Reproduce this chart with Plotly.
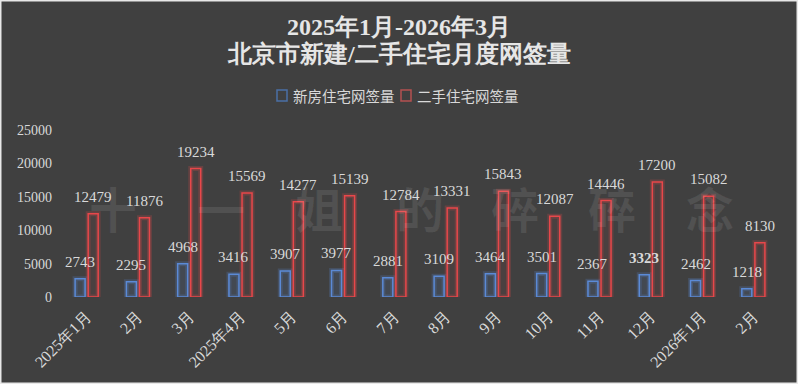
import plotly.graph_objects as go

months = ["2025年1月", "2月", "3月", "2025年4月", "5月", "6月", "7月", "8月",
          "9月", "10月", "11月", "12月", "2026年1月", "2月"]
new_homes = [2743, 2295, 4968, 3416, 3907, 3977, 2881, 3109, 3464, 3501, 2367, 3323, 2462, 1218]
resale_homes = [12479, 11876, 19234, 15569, 14277, 15139, 12784, 13331, 15843, 12087, 14446, 17200, 15082, 8130]
bold_new_idx = [11]
y_ticks = [0, 5000, 10000, 15000, 20000, 25000]
series_names = ["新房住宅网签量", "二手住宅网签量"]
title_lines = ["2025年1月-2026年3月", "北京市新建/二手住宅月度网签量"]
watermark = ["十", "一", "姐", "的", "碎", "碎", "念"]

BG = "#404040"
TXT = "#d9d9d9"
BLUE = "91,138,214"
RED = "232,71,74"
SERIF = "Liberation Serif, Times New Roman, serif"
CJK = "Noto Sans CJK SC, sans-serif"

# layout geometry (pixels)
W_PX, H_PX = 798, 384
L, R, T, B = 61, 19, 130, 87
PW, PH = W_PX - L - R, H_PX - T - B


def px_x(p):
    return (p - L) / PW


def px_y(p):
    return (H_PX - B - p) / PH


x = list(range(len(months)))
W = 0.195
OFF_B = -0.225
OFF_R = 0.03

fig = go.Figure()
for vals, col, off in [(new_homes, BLUE, OFF_B), (resale_homes, RED, OFF_R)]:
    fig.add_trace(go.Bar(x=x, y=vals, width=W, offset=off, showlegend=False, hoverinfo="skip",
                         marker=dict(color="rgba(0,0,0,0)", line=dict(color=f"rgba({col},0.22)", width=5))))
fig.add_trace(go.Bar(x=x, y=new_homes, width=W, offset=OFF_B, name=series_names[0], showlegend=False,
                     marker=dict(color=f"rgba({BLUE},0.12)", line=dict(color=f"rgb({BLUE})", width=1.5))))
fig.add_trace(go.Bar(x=x, y=resale_homes, width=W, offset=OFF_R, name=series_names[1], showlegend=False,
                     marker=dict(color=f"rgba({RED},0.06)", line=dict(color=f"rgb({RED})", width=1.5))))

ann = []
for i in x:
    t = str(new_homes[i])
    if i in bold_new_idx:
        t = f"<b>{t}</b>"
    ann.append(dict(x=i + OFF_B + W / 2, y=new_homes[i], text=t, showarrow=False,
                    yanchor="bottom", yshift=7, font=dict(family=SERIF, size=15, color=TXT)))
    ann.append(dict(x=i + OFF_R + W / 2, y=resale_homes[i], text=str(resale_homes[i]), showarrow=False,
                    yanchor="bottom", yshift=7, font=dict(family=SERIF, size=15, color=TXT)))

wm_x = [113, 221, 319, 420, 515, 612, 710]
for ch, p in zip(watermark, wm_x):
    ann.append(dict(xref="paper", yref="paper", x=px_x(p), y=px_y(207), text=ch,
                    showarrow=False, xanchor="center", yanchor="middle",
                    font=dict(family=CJK, size=48, color="rgba(255,255,255,0.09)", weight="bold")))

# title
for line, yc in zip(title_lines, [27, 53]):
    ann.append(dict(xref="paper", yref="paper", x=px_x(399), y=px_y(yc), text=f"<b>{line}</b>",
                    showarrow=False, xanchor="center", yanchor="middle",
                    font=dict(family=SERIF, size=24, color="#e6e6e6")))

# legend (manual)
shapes = []
leg = [(series_names[0], "74,111,165", 277), (series_names[1], "180,80,80", 401)]
for name, col, sx in leg:
    shapes.append(dict(type="rect", xref="paper", yref="paper",
                       x0=px_x(sx), x1=px_x(sx + 10), y0=px_y(101), y1=px_y(90),
                       line=dict(color=f"rgb({col})", width=1.5), fillcolor="rgba(0,0,0,0)"))
    ann.append(dict(xref="paper", yref="paper", x=px_x(sx + 14), y=px_y(95), text=name,
                    showarrow=False, xanchor="left", yanchor="middle",
                    font=dict(family=CJK, size=14.5, color=TXT)))

shapes.append(dict(type="rect", xref="paper", yref="paper",
                   x0=px_x(0.75), x1=px_x(797.25), y0=px_y(383.25), y1=px_y(0.75),
                   line=dict(color="#e8e8e8", width=1.5), layer="below"))

fig.update_layout(
    width=W_PX, height=H_PX,
    paper_bgcolor=BG, plot_bgcolor=BG,
    margin=dict(l=L, r=R, t=T, b=B, autoexpand=False),
    barmode="overlay",
    showlegend=False,
    xaxis=dict(tickvals=x, ticktext=months, tickangle=-45, range=[-0.5, len(months) - 0.5],
               showgrid=False, zeroline=False, showline=False, ticks="", automargin=False,
               ticklabelstandoff=6, tickfont=dict(family=SERIF, size=16, color=TXT)),
    yaxis=dict(range=[0, 25000], tickvals=y_ticks, ticktext=[str(v) for v in y_ticks],
               showgrid=False, zeroline=False, showline=False, automargin=False,
               ticks="", ticklabelstandoff=8, tickfont=dict(family=SERIF, size=14, color=TXT)),
    annotations=ann,
    shapes=shapes,
)
fig.write_html("out.html", config={"displayModeBar": False},
               post_script="document.body.style.margin='0';document.body.style.overflow='hidden';")
